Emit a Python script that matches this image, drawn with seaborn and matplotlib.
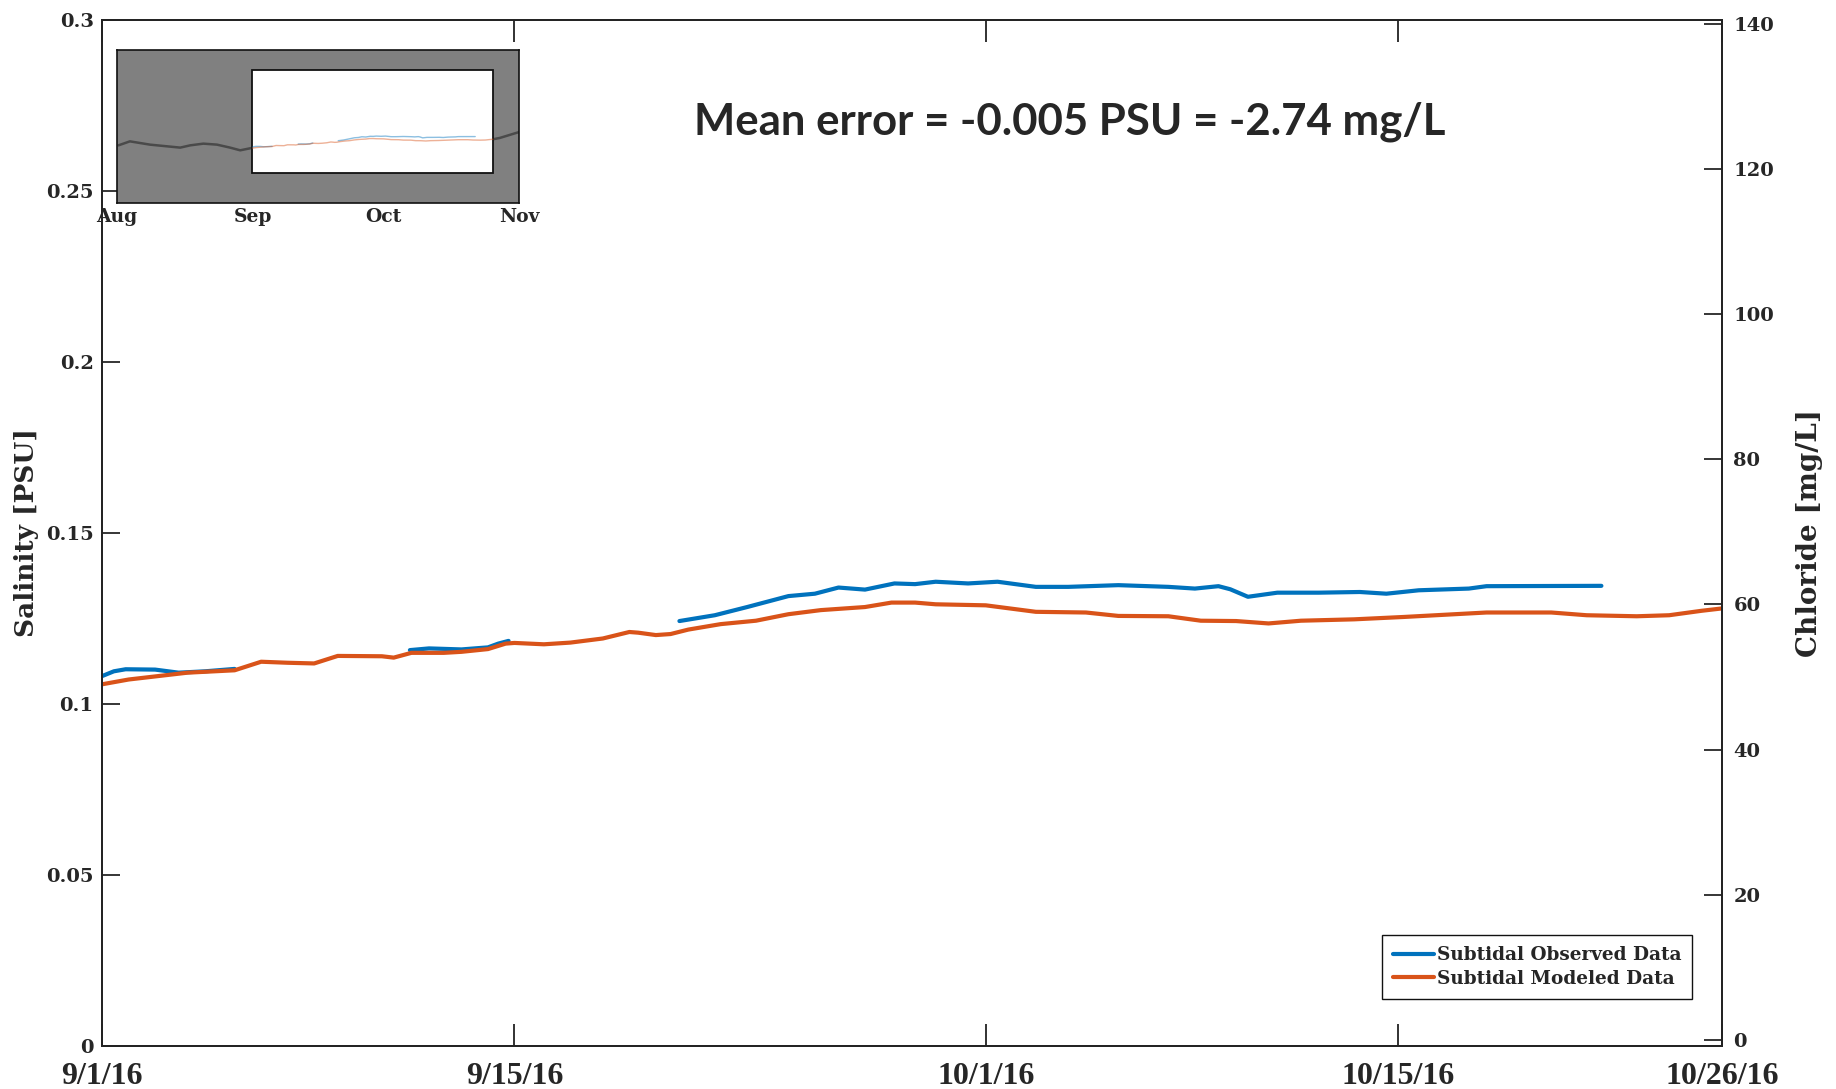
import numpy as np
import pandas as pd
import matplotlib
matplotlib.use("Agg")
import matplotlib.pyplot as plt
import matplotlib.dates as mdates
import matplotlib.transforms as mtransforms
from matplotlib.lines import Line2D
from matplotlib.patches import Rectangle
from matplotlib.ticker import FuncFormatter
from matplotlib import font_manager
import seaborn as sns

# ---------------- data (days after 9/1/2016, salinity in PSU) ----------------
obs1_days = [0.0, 0.4, 0.8, 1.8, 2.6, 3.5, 4.5]
obs1_sal = [0.1081, 0.1095, 0.1101, 0.1100, 0.1091, 0.1095, 0.1102]

obs2_days = [10.45, 11.1, 12.2, 13.1, 13.45, 13.8]
obs2_sal = [0.1157, 0.1162, 0.1159, 0.1165, 0.1176, 0.1184]

obs3_days = [19.6, 20.8, 21.9, 23.3, 24.2, 25.0, 25.9, 26.9, 27.6, 28.3,
             29.4, 30.4, 31.7, 32.8, 34.5, 36.2, 37.1, 37.9, 38.3, 38.9,
             39.9, 41.3, 42.7, 43.6, 44.7, 46.4, 47.0, 50.9]
obs3_sal = [0.1242, 0.1259, 0.1283, 0.1315, 0.1322, 0.1340, 0.1334, 0.1352, 0.1350, 0.1357,
            0.1352, 0.1357, 0.1342, 0.1342, 0.1347, 0.1342, 0.1337, 0.1344, 0.1335, 0.1313,
            0.1325, 0.1325, 0.1327, 0.1322, 0.1332, 0.1337, 0.1344, 0.1345]

model_days = [0.0, 0.9, 2.0, 2.9, 4.5, 5.4, 6.3, 7.2, 8.0, 9.5,
              9.9, 10.5, 11.6, 12.2, 13.1, 13.7, 14.0, 15.0, 15.9, 17.0,
              17.9, 18.2, 18.8, 19.3, 19.9, 21.0, 22.2, 23.3, 24.4, 25.9,
              26.8, 27.6, 28.3, 30.0, 31.7, 33.4, 34.5, 36.2, 37.3, 38.5,
              39.6, 40.7, 42.5, 44.2, 47.0, 49.2, 50.4, 52.1, 53.2, 54.3, 55.0]
model_sal = [0.1057, 0.1071, 0.1082, 0.1091, 0.1098, 0.1123, 0.1120, 0.1118, 0.1140, 0.1139,
             0.1135, 0.1149, 0.1149, 0.1152, 0.1160, 0.1176, 0.1178, 0.1174, 0.1179, 0.1191,
             0.1210, 0.1208, 0.1201, 0.1204, 0.1217, 0.1233, 0.1243, 0.1262, 0.1274, 0.1283,
             0.1296, 0.1296, 0.1291, 0.1288, 0.1269, 0.1267, 0.1257, 0.1256, 0.1243, 0.1242,
             0.1235, 0.1243, 0.1247, 0.1254, 0.1267, 0.1267, 0.1259, 0.1256, 0.1259, 0.1272, 0.1279]

# inset context (outside the main window), days after 8/1/2016
ctx_aug_days = [0.4, 3.0, 7.6, 14.5, 16.8, 19.8, 22.9, 25.9, 28.2, 31.0]
ctx_aug_sal = [0.1127, 0.1226, 0.1144, 0.1070, 0.1127, 0.1169, 0.1144, 0.1070, 0.1003, 0.1065]
ctx_nov_days = [86.0, 87.5, 89.0, 90.5, 92.0]
ctx_nov_sal = [0.1279, 0.1310, 0.1360, 0.1410, 0.1460]

series_names = ["Subtidal Observed Data", "Subtidal Modeled Data"]
x_tick_dates = ["2016-09-01", "2016-09-15", "2016-10-01", "2016-10-15", "2016-10-26"]
x_tick_labels = ["9/1/16", "9/15/16", "10/1/16", "10/15/16", "10/26/16"]
inset_tick_dates = ["2016-08-01", "2016-09-01", "2016-10-01", "2016-11-01"]
inset_tick_labels = ["Aug", "Sep", "Oct", "Nov"]
sal_ticks = [0, 0.05, 0.1, 0.15, 0.2, 0.25, 0.3]
cl_ticks = [0, 20, 40, 60, 80, 100, 120, 140]
annotation = "Mean error = -0.005 PSU = -2.74 mg/L"

# ---------------- build tables ----------------
start = pd.Timestamp("2016-09-01")
aug1 = pd.Timestamp("2016-08-01")


def to_dates(base, days):
    return base + pd.to_timedelta(np.asarray(days, dtype=float), unit="D")


frames = []
for seg, (d, s) in enumerate([(obs1_days, obs1_sal), (obs2_days, obs2_sal), (obs3_days, obs3_sal)]):
    frames.append(pd.DataFrame({"date": to_dates(start, d), "salinity": s,
                                "series": series_names[0], "segment": seg}))
frames.append(pd.DataFrame({"date": to_dates(start, model_days), "salinity": model_sal,
                            "series": series_names[1], "segment": 10}))
df = pd.concat(frames, ignore_index=True)

ctx_df = pd.concat([
    pd.DataFrame({"date": to_dates(aug1, ctx_aug_days), "salinity": ctx_aug_sal, "segment": 0}),
    pd.DataFrame({"date": to_dates(aug1, ctx_nov_days), "salinity": ctx_nov_sal, "segment": 1}),
], ignore_index=True)

# ---------------- style ----------------
sns.set_theme(style="ticks")
plt.rcParams["font.family"] = ["DejaVu Serif", "DejaVu Sans"]
plt.rcParams["axes.edgecolor"] = "#222222"
plt.rcParams["axes.linewidth"] = 1.3

available = {f.name for f in font_manager.fontManager.ttflist}
if "Liberation Sans Narrow" in available:
    ann_family, ann_size = "Liberation Sans Narrow", 37
else:
    ann_family, ann_size = "Lato", 31.5

blue = "#0072BD"
orange = "#D95319"
palette = {series_names[0]: blue, series_names[1]: orange}

fig = plt.figure(figsize=(18.36, 10.89), dpi=100)
ax = fig.add_axes([0.0556, 0.0398, 0.8824, 0.9418])

sns.lineplot(data=df, x="date", y="salinity", hue="series", units="segment",
             estimator=None, sort=False, palette=palette, linewidth=3.0,
             legend=False, ax=ax)

xmin, xmax = pd.Timestamp(x_tick_dates[0]), pd.Timestamp(x_tick_dates[-1])
ax.set_xlim(xmin, xmax)
ax.set_ylim(0, 0.3)
ax.set_yticks(sal_ticks)
ax.yaxis.set_major_formatter(FuncFormatter(lambda v, p: f"{v:g}"))
ax.set_xticks(pd.to_datetime(x_tick_dates))
ax.set_xticklabels(x_tick_labels)
ax.set_xlabel("")
ax.set_ylabel("Salinity [PSU]", fontsize=19, fontweight="bold", labelpad=5)

ax.tick_params(axis="x", direction="in", top=True, bottom=True, length=16, width=1.3,
               pad=12, labelsize=23, color="#222222")
for lab in ax.get_xticklabels():
    lab.set_fontfamily("Liberation Serif")
    lab.set_fontweight("bold")
ax.tick_params(axis="y", direction="in", left=True, right=False, length=13, width=1.3,
               pad=6, labelsize=14)
for lab in ax.get_yticklabels():
    lab.set_fontweight("bold")
for sp in ax.spines.values():
    sp.set_visible(True)

ax2 = ax.twinx()
ax2.set_ylim(-0.8, 140.55)
ax2.set_yticks(cl_ticks)
ax2.tick_params(axis="y", direction="in", length=13, width=1.3, pad=8, labelsize=14)
for lab in ax2.get_yticklabels():
    lab.set_fontweight("bold")
ax2.set_ylabel("Chloride [mg/L]", fontsize=20, fontweight="bold", labelpad=16)

# legend
handles = [Line2D([0], [0], color=palette[n], lw=3.0) for n in series_names]
leg = ax.legend(handles, series_names, loc="lower right", bbox_to_anchor=(0.9815, 0.0458),
                borderaxespad=0, frameon=True, fancybox=False, framealpha=1,
                edgecolor="#111111", handlelength=2.2, handletextpad=0.15,
                labelspacing=0.28, borderpad=0.6,
                prop={"family": "DejaVu Serif", "weight": "bold", "size": 13.3})
leg.get_frame().set_linewidth(1.0)

ax.text(0.597, 0.9006, annotation, transform=ax.transAxes, ha="center", va="center",
        fontsize=ann_size, fontweight="bold", family=[ann_family, "DejaVu Sans"])

# ---------------- inset ----------------
ax_in = fig.add_axes([0.0636, 0.8139, 0.2193, 0.1402])
ax_in.set_facecolor("#808080")
sns.lineplot(data=ctx_df, x="date", y="salinity", units="segment", estimator=None,
             sort=False, color="#4a4a4a", linewidth=1.8, ax=ax_in, zorder=1)
x0 = mdates.date2num(xmin)
x1 = mdates.date2num(xmax)
trans = mtransforms.blended_transform_factory(ax_in.transData, ax_in.transAxes)
ax_in.add_patch(Rectangle((x0, 0.196), x1 - x0, 0.673, transform=trans,
                          facecolor="white", edgecolor="#111111", linewidth=1.3, zorder=2))
sns.lineplot(data=df, x="date", y="salinity", hue="series", units="segment",
             estimator=None, sort=False, palette=palette, linewidth=1.0, alpha=0.45,
             legend=False, ax=ax_in, zorder=3)
ax_in.set_xlim(pd.Timestamp(inset_tick_dates[0]), pd.Timestamp(inset_tick_dates[-1]))
ax_in.set_ylim(-0.03, 0.35)
ax_in.set_xticks(pd.to_datetime(inset_tick_dates))
ax_in.set_xticklabels(inset_tick_labels)
ax_in.set_yticks([])
ax_in.set_xlabel("")
ax_in.set_ylabel("")
ax_in.tick_params(axis="x", length=0, pad=4, labelsize=13.5)
for lab in ax_in.get_xticklabels():
    lab.set_fontweight("bold")
for sp in ax_in.spines.values():
    sp.set_visible(True)
    sp.set_color("#111111")
    sp.set_linewidth(1.2)

fig.savefig("out.png", dpi=100)
